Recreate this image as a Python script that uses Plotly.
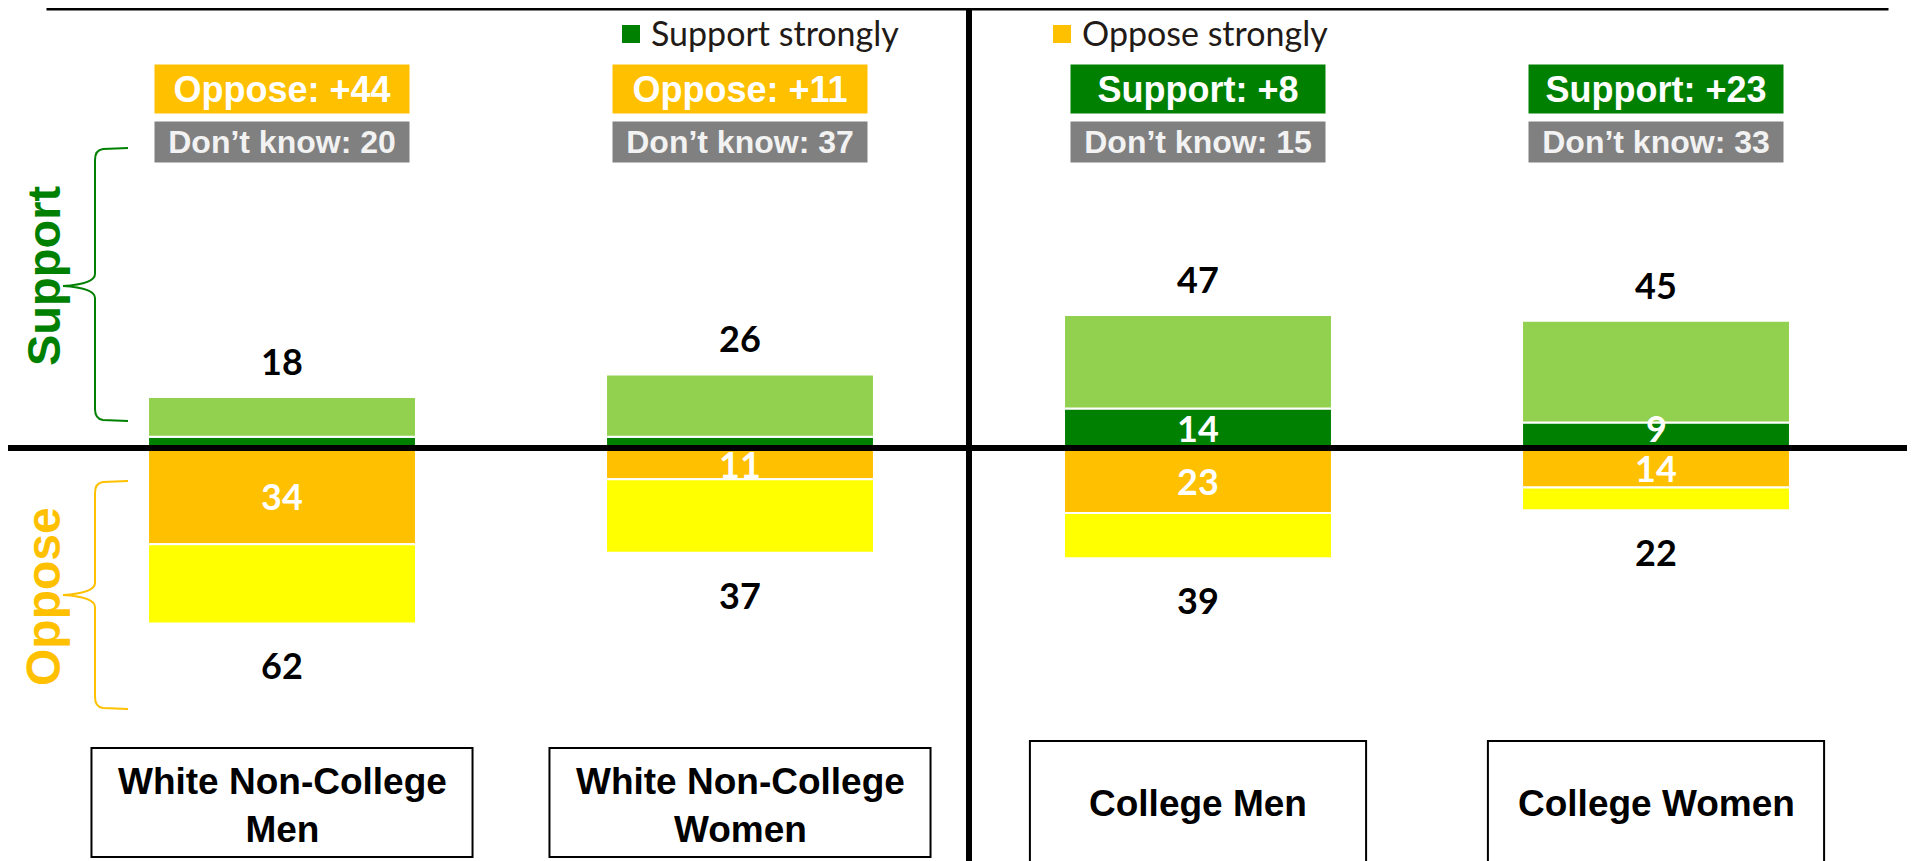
import plotly.graph_objects as go

# survey results, percent
groups = ["White Non-College Men", "White Non-College Women", "College Men", "College Women"]
box_labels = ["White Non-College<br>Men", "White Non-College<br>Women", "College Men", "College Women"]
support_strong = [4, 4, 14, 9]
support_total = [18, 26, 47, 45]
oppose_strong = [34, 11, 23, 14]
oppose_total = [62, 37, 39, 22]
dont_know = [20, 37, 15, 33]

support_rest = [t - s for t, s in zip(support_total, support_strong)]
oppose_rest = [t - s for t, s in zip(oppose_total, oppose_strong)]

W, H = 1915, 861
OFF = 8  # the page body margin shifts the figure by 8px
DARK_GREEN = "#008000"
LIGHT_GREEN = "#92D050"
ORANGE = "#FFC000"
YELLOW = "#FFFF00"
GRAY = "#808080"
NUM_FONT = dict(family="Lato", size=36, weight=700)
ARIAL = "'Liberation Sans', Arial, sans-serif"


def fx(px):
    return (px - OFF) / W


def fy(py):
    return 1 - (py - OFF) / H


def note(**kw):
    kw.setdefault("showarrow", False)
    kw.setdefault("xanchor", "center")
    kw.setdefault("yanchor", "middle")
    return kw


fig = go.Figure()
bar_style = dict(width=0.585, marker_line=dict(color="white", width=2), hoverinfo="skip", showlegend=False)
fig.add_trace(go.Bar(x=groups, y=support_strong, marker_color=DARK_GREEN, name="Support strongly", **bar_style))
fig.add_trace(go.Bar(x=groups, y=support_rest, marker_color=LIGHT_GREEN, name="Support somewhat", **bar_style))
fig.add_trace(go.Bar(x=groups, y=[-v for v in oppose_strong], marker_color=ORANGE, name="Oppose strongly", **bar_style))
fig.add_trace(go.Bar(x=groups, y=[-v for v in oppose_rest], marker_color=YELLOW, name="Oppose somewhat", **bar_style))

annotations = []
shapes = []

for i, g in enumerate(groups):
    # totals above / below the bars
    annotations.append(note(x=g, y=support_total[i], yshift=36, text=str(support_total[i]),
                            font=dict(color="black", **NUM_FONT)))
    annotations.append(note(x=g, y=-oppose_total[i], yshift=-42, text=str(oppose_total[i]),
                            font=dict(color="black", **NUM_FONT)))
    # strong values inside the bars (skip the thin ones)
    if support_strong[i] >= 8:
        annotations.append(note(x=g, y=max(support_strong[i] / 2, 7), text=str(support_strong[i]),
                                font=dict(color="white", **NUM_FONT)))
    if oppose_strong[i] >= 8:
        annotations.append(note(x=g, y=-oppose_strong[i] / 2, text=str(oppose_strong[i]),
                                font=dict(color="white", **NUM_FONT)))

    # net + don't know boxes
    net = support_total[i] - oppose_total[i]
    net_text = ("Support: +%d" if net > 0 else "Oppose: +%d") % abs(net)
    annotations.append(note(x=g, y=fy(89), yref="paper", text=net_text,
                            bgcolor=DARK_GREEN if net > 0 else ORANGE, width=252, height=46,
                            font=dict(family=ARIAL, size=36, color="white", weight=700)))
    annotations.append(note(x=g, y=fy(142), yref="paper", text="Don\u2019t know: %d" % dont_know[i],
                            bgcolor=GRAY, width=252, height=38,
                            font=dict(family=ARIAL, size=32, color="#F2F2F2", weight=700)))

    # category boxes at the bottom
    hw = 0.416 if i < 2 else 0.367
    top = 748 if i < 2 else 741
    bottom = 857 if i < 2 else 920
    shapes.append(dict(type="rect", xref="x", yref="paper", x0=i - hw, x1=i + hw,
                       y0=fy(bottom), y1=fy(top), line=dict(color="black", width=2),
                       fillcolor="white", layer="below"))
    annotations.append(note(x=g, y=fy(805 if i < 2 else 803), yref="paper", text=box_labels[i],
                            font=dict(family=ARIAL, size=37, color="black", weight=700)))

# quadrant lines
shapes.append(dict(type="line", xref="paper", yref="y", x0=0, x1=1, y0=0, y1=0,
                   line=dict(color="black", width=6)))
shapes.append(dict(type="line", xref="x", yref="paper", x0=1.5, x1=1.5, y0=0, y1=fy(8),
                   line=dict(color="black", width=6)))

# title box cut off at the top
shapes.append(dict(type="rect", xref="paper", yref="paper", x0=fx(48), x1=fx(1887), y0=fy(9), y1=fy(-20),
                   line=dict(color="black", width=3), fillcolor="#F2F2F2"))

# legend
for sx, col, txt in [(622, DARK_GREEN, "Support strongly"), (1053, ORANGE, "Oppose strongly")]:
    shapes.append(dict(type="rect", xref="paper", yref="paper", x0=fx(sx), x1=fx(sx + 18),
                       y0=fy(43), y1=fy(25), line=dict(width=0), fillcolor=col))
    annotations.append(note(x=fx(sx + 27), y=fy(33), xref="paper", yref="paper", xanchor="left",
                            text=txt, font=dict(family="Lato", size=34, color="#221a16")))


# curly braces
def brace(top, mid, bottom, color):
    xr, xv, xt = 128, 95, 63
    pts = [
        ("M", [(xr, top)]),
        ("L", [(xv + 8, top + 1)]),
        ("Q", [(xv, top + 2), (xv, top + 12)]),
        ("L", [(xv, mid - 12)]),
        ("Q", [(xv, mid - 2), (xt, mid)]),
        ("Q", [(xv, mid + 2), (xv, mid + 12)]),
        ("L", [(xv, bottom - 12)]),
        ("Q", [(xv, bottom - 2), (xv + 8, bottom - 1)]),
        ("L", [(xr, bottom)]),
    ]
    path = " ".join(cmd + " " + " ".join("%.5f,%.5f" % (fx(a), fy(b)) for a, b in p) for cmd, p in pts)
    return dict(type="path", xref="paper", yref="paper", path=path, line=dict(color=color, width=2))


shapes.append(brace(148, 286, 421, DARK_GREEN))
shapes.append(brace(481, 595, 709, ORANGE))

annotations.append(note(x=fx(43), y=fy(276), xref="paper", yref="paper", text="Support", textangle=-90,
                        font=dict(family=ARIAL, size=47, color=DARK_GREEN, weight=700)))
annotations.append(note(x=fx(43), y=fy(597), xref="paper", yref="paper", text="Oppose", textangle=-90,
                        font=dict(family=ARIAL, size=48, color=ORANGE, weight=700)))

px_per_unit = 2.83
zero_px = 448 - OFF
first_center = 282 - OFF
cat_step = 458
fig.update_layout(
    width=W, height=H, autosize=False,
    margin=dict(l=0, r=0, t=0, b=0),
    barmode="relative",
    paper_bgcolor="white", plot_bgcolor="white",
    shapes=shapes, annotations=annotations,
    xaxis=dict(type="category", range=[-first_center / cat_step, (W - first_center) / cat_step], visible=False),
    yaxis=dict(range=[-(H - zero_px) / px_per_unit, zero_px / px_per_unit], visible=False),
)

fig.write_html("out.html")
